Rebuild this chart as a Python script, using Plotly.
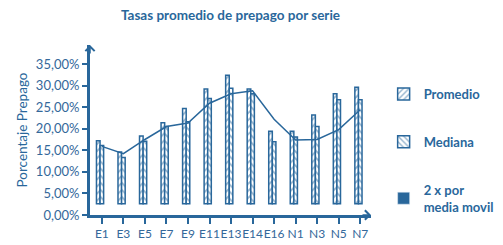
import plotly.graph_objects as go

categories = ["E1", "E3", "E5", "E7", "E9", "E11", "E13", "E14", "E16", "N1", "N3", "N5", "N7"]
promedio = [17.2, 14.6, 18.3, 21.4, 24.7, 29.2, 32.4, 29.2, 19.4, 19.4, 23.2, 28.1, 29.6]
mediana = [16.1, 13.3, 17.1, 20.5, 21.6, 27.0, 29.4, 28.1, 17.0, 18.1, 20.5, 26.7, 26.7]
media_movil = [15.9, 14.2, 17.5, 20.5, 21.3, 25.9, 28.1, 28.8, 22.2, 17.4, 17.5, 19.8, 24.4]
y_ticks = [0, 5, 10, 15, 20, 25, 30, 35]
y_tick_labels = ["0,00%", "5,00%", "10,00%", "15,00%", "20,00%", "25,00%", "30,00%", "35,00%"]

BLUE = "#29679b"
TEXT = "#34689a"
BASE = 2.6
FONT = "Lato"

fig = go.Figure()
fig.add_trace(go.Bar(
    x=categories, y=[v - BASE for v in promedio], base=BASE, name="Promedio",
    marker=dict(color="white", line=dict(color=BLUE, width=1.5),
                pattern=dict(shape="/", fgcolor=BLUE, bgcolor="white", size=5, solidity=0.35)),
    legendgroup="a",
))
fig.add_trace(go.Bar(
    x=categories, y=[v - BASE for v in mediana], base=BASE, name="Mediana",
    marker=dict(color="white", line=dict(color=BLUE, width=1.5),
                pattern=dict(shape="\\", fgcolor=BLUE, bgcolor="white", size=5, solidity=0.35)),
    legendgroup="b",
))
fig.add_trace(go.Scatter(
    x=categories, y=media_movil, mode="lines", line=dict(color=BLUE, width=1.5),
    showlegend=False, name="2 x por media movil",
))
fig.add_trace(go.Bar(
    x=[categories[0]], y=[None], name="2 x por<br>media movil",
    marker=dict(color=BLUE), legendgroup="c",
))

fig.update_layout(
    width=503, height=245,
    margin=dict(l=78, r=110, t=37, b=30),
    paper_bgcolor="white", plot_bgcolor="white",
    font=dict(family=FONT, size=13, color=TEXT),
    title=dict(text="<b>Tasas promedio de prepago por serie</b>", x=0.5, xref="paper",
               y=1.0, yref="container", yanchor="top", pad=dict(t=3),
               font=dict(size=13.5, color=BLUE)),
    barmode="group", bargap=0.5, bargroupgap=0.0,
    legend=dict(x=1.045, y=0.8, xanchor="left", yanchor="top", tracegroupgap=28,
                font=dict(size=13, color=BLUE, weight="bold"), bgcolor="rgba(0,0,0,0)"),
    showlegend=True,
)
fig.update_xaxes(
    showline=True, linecolor=BLUE, linewidth=3, ticks="outside", tickcolor=BLUE,
    ticklen=6, tickwidth=1.5, showgrid=False, tickfont=dict(size=12, color=TEXT),
    tickangle=0, range=[-0.55, 12.5],
)
fig.update_yaxes(
    range=[0, 39.4], tickvals=y_ticks, ticktext=y_tick_labels, showline=True,
    linecolor=BLUE, linewidth=3, ticks="outside", tickcolor=BLUE, ticklen=5,
    tickwidth=1.5, showgrid=False, zeroline=False, tickfont=dict(size=13, color=TEXT),
    title=dict(text="Porcentaje Prepago", font=dict(size=13.5, color=BLUE), standoff=6),
)
# axis arrowheads
fig.add_annotation(x=0, y=1.0, xref="paper", yref="paper", ax=0, ay=10, text="",
                   showarrow=True, arrowhead=4, arrowsize=1.2, arrowwidth=1.5, arrowcolor=BLUE)
fig.add_annotation(x=1.0, y=0, xref="paper", yref="paper", ax=-10, ay=0, text="",
                   showarrow=True, arrowhead=4, arrowsize=1.2, arrowwidth=1.5, arrowcolor=BLUE)

fig.write_html("out.html")
